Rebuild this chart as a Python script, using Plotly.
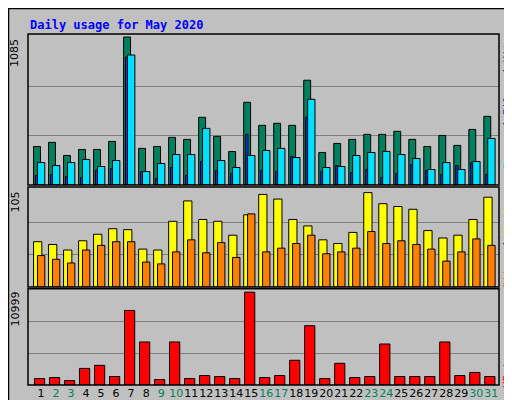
import plotly.graph_objects as go

days = list(range(1, 32))
weekend = [2, 3, 9, 10, 16, 17, 23, 24, 30, 31]

hits = [282, 312, 216, 260, 260, 319, 1085, 268, 282, 349, 334, 496, 356, 245, 606, 437,
        452, 437, 768, 238, 304, 334, 371, 371, 393, 334, 282, 363, 290, 407, 503]
files = [164, 142, 164, 187, 135, 179, 953, 98, 157, 223, 223, 415, 179, 128, 216, 253,
         268, 201, 628, 128, 135, 216, 238, 246, 223, 194, 113, 164, 113, 172, 341]
pages = [69, 76, 61, 54, 106, 120, 938, 98, 47, 128, 69, 172, 106, 83, 371, 106,
         98, 209, 496, 98, 142, 91, 113, 54, 83, 150, 106, 76, 142, 164, 76]
visits = [49, 46, 40, 50, 57, 63, 62, 41, 40, 71, 93, 73, 71, 56, 78, 100,
          95, 73, 66, 51, 47, 59, 102, 90, 87, 84, 61, 53, 56, 73, 97]
sites = [34, 30, 26, 40, 45, 49, 49, 27, 25, 38, 51, 37, 48, 32, 79, 38,
         42, 47, 56, 36, 38, 42, 60, 47, 50, 46, 41, 28, 38, 52, 45]
kbytes = [746, 864, 511, 1925, 2278, 982, 8642, 4989, 628, 4989, 746, 1100, 982, 746, 10763, 864,
          1100, 2868, 6874, 746, 2514, 864, 982, 4753, 982, 982, 982, 4989, 1100, 1453, 982]

max_hits, max_visits, max_kb = 1085, 105, 10999

fig = go.Figure()
line = dict(color="black", width=1)

def bars(y, color, off, w, ax):
    fig.add_trace(go.Bar(x=days, y=y, offset=off, width=w, marker=dict(color=color, line=line),
                         xaxis="x", yaxis=ax, hoverinfo="y"))

bars(hits, "#00805C", -0.5, 0.46, "y")
bars(pages, "#0040FF", -0.37, 0.16, "y")
bars(files, "#00E0FF", -0.24, 0.49, "y")
bars(visits, "#FFFF00", -0.5, 0.55, "y2")
bars(sites, "#FF8000", -0.24, 0.49, "y2")
bars(kbytes, "#FF0000", -0.44, 0.68, "y3")

ticktext = [f'<span style="color:#00805C">{d}</span>' if d in weekend else str(d) for d in days]

def yax(dom, top, mx):
    return dict(domain=dom, range=[0, top], tickvals=[mx / 3, 2 * mx / 3], showticklabels=False,
                showgrid=True, gridcolor="#808080", gridwidth=1, zeroline=False, fixedrange=True,
                automargin=False)

fig.update_layout(
    width=512, height=400, showlegend=False, barmode="overlay",
    paper_bgcolor="#C0C0C0", plot_bgcolor="#C0C0C0",
    margin=dict(l=20, r=21, t=26, b=23, autoexpand=False),
    font=dict(family="DejaVu Sans", size=11, color="black"),
    xaxis=dict(range=[0.13, 31.51], tickvals=days, ticktext=ticktext, ticks="", showgrid=False,
               zeroline=False, tickfont=dict(size=11), tickangle=0, automargin=False, anchor="y3"),
    yaxis=yax([0.57, 1], 1107, max_hits),
    yaxis2=yax([0.279, 0.564], 108, max_visits),
    yaxis3=yax([0, 0.274], 11150, max_kb),
)

# panel frames
for d in [(0.57, 1), (0.279, 0.564), (0, 0.274)]:
    fig.add_shape(type="rect", xref="paper", yref="paper", x0=0, x1=1, y0=d[0], y1=d[1],
                  line=dict(color="black", width=1.5))
# outer 3D frame
fig.add_shape(type="rect", xref="paper", yref="paper", x0=(505 - 20) / 471, x1=(510 - 20) / 471,
              y0=(377 - 398) / 351, y1=(377 - 6) / 351, fillcolor="#808080", line_width=0)
fig.add_shape(type="rect", xref="paper", yref="paper", x0=(6 - 20) / 471, x1=(510 - 20) / 471,
              y0=(377 - 398) / 351, y1=(377 - 393) / 351, fillcolor="#808080", line_width=0)
fig.add_shape(type="rect", xref="paper", yref="paper", x0=-19.5 / 471, x1=491 / 471,
              y0=-22 / 351, y1=376.5 / 351, line=dict(color="black", width=1.5))

mono = "DejaVu Sans Mono"
fig.add_annotation(text="<b>Daily usage for May 2020</b>", xref="paper", yref="paper",
                   x=0, y=(377 - 8) / 351, xanchor="left", yanchor="top", showarrow=False,
                   font=dict(family=mono, size=12, color="#0000FF"))
for lab, ytop in [(str(max_hits), 29), (str(max_visits), 182), (str(max_kb), 282)]:
    fig.add_annotation(text=lab, xref="paper", yref="paper", x=-13 / 471, y=(377 - ytop) / 351,
                       textangle=-90, yanchor="top", xanchor="center", showarrow=False,
                       font=dict(size=11))
right = [
    ('<span style="color:#00E0FF">Pages</span> / <span style="color:#0040FF">Files</span>'
     ' / <span style="color:#00805C">Hits</span>', 26),
    ('<span style="color:#FF8000">Sites</span> / <span style="color:#FFFF00">Visits</span>', 186),
    ('<span style="color:#FF0000">KBytes</span>', 338),
]
for txt, ytop in right:
    fig.add_annotation(text=txt, xref="paper", yref="paper", x=(499 - 20) / 471, y=(377 - ytop) / 351,
                       textangle=-90, yanchor="top", xanchor="center", showarrow=False,
                       font=dict(family=mono, size=11))

fig.write_html("out.html")
